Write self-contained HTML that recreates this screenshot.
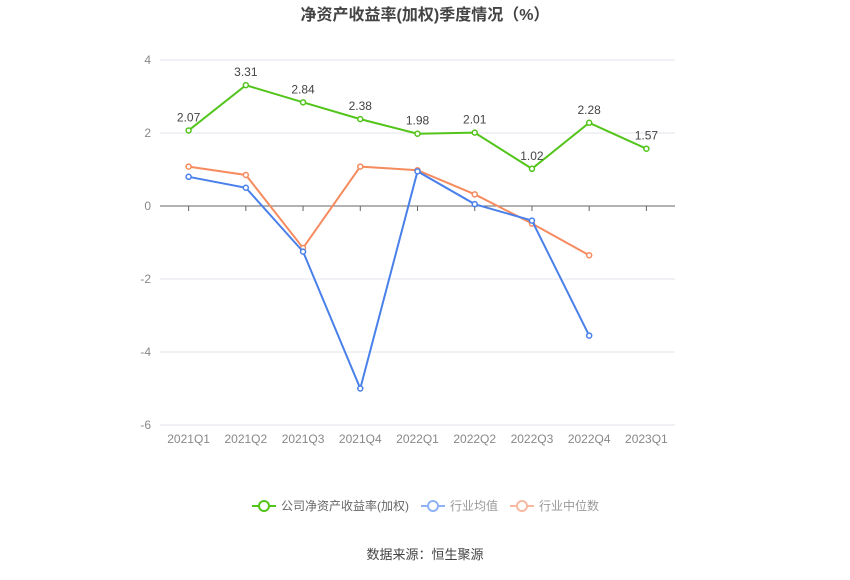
<!DOCTYPE html>
<html><head><meta charset="utf-8"><style>
body{margin:0;background:#fff;font-family:"Liberation Sans","Noto Sans CJK SC",sans-serif}
</style></head><body>
<svg width="850" height="575" xmlns="http://www.w3.org/2000/svg" font-family="Liberation Sans, Noto Sans CJK SC, sans-serif">
<text x="425" y="20" text-anchor="middle" font-size="16" font-weight="bold" fill="#444">净资产收益率(加权)季度情况（%）</text>
<g id="grid"></g><g id="series"></g>
<g font-size="12" fill="#666">
<g><line x1="252" x2="276" y1="506" y2="506" stroke="#52c41a" stroke-width="2"/><circle cx="264" cy="506" r="5" fill="#fff" stroke="#52c41a" stroke-width="2"/><text x="281" y="510">公司净资产收益率(加权)</text></g>
<g><line x1="421" x2="445" y1="506" y2="506" stroke="#8fb2f5" stroke-width="2"/><circle cx="433" cy="506" r="5" fill="#fff" stroke="#8fb2f5" stroke-width="2"/><text x="450" y="510" fill="#999">行业均值</text></g>
<g><line x1="510" x2="534" y1="506" y2="506" stroke="#f9b9a0" stroke-width="2"/><circle cx="522" cy="506" r="5" fill="#fff" stroke="#f9b9a0" stroke-width="2"/><text x="539" y="510" fill="#999">行业中位数</text></g>
</g>
<text x="425" y="559" text-anchor="middle" font-size="13" fill="#444">数据来源：恒生聚源</text>
</svg>
<script>
const categories=["2021Q1","2021Q2","2021Q3","2021Q4","2022Q1","2022Q2","2022Q3","2022Q4","2023Q1"];
const companyVals=[2.07,3.31,2.84,2.38,1.98,2.01,1.02,2.28,1.57];
const avgVals=[0.8,0.5,-1.25,-5.0,0.95,0.05,-0.4,-3.55];
const medianVals=[1.08,0.85,-1.15,1.08,0.98,0.32,-0.48,-1.35];
const yTicks=[4,2,0,-2,-4,-6];
const NS="http://www.w3.org/2000/svg";
const x0=160,x1=675,step=(x1-x0)/categories.length;
const xs=i=>x0+step*(i+0.5);
const ys=v=>206-v*36.5;
const grid=document.getElementById('grid'),ser=document.getElementById('series');
function mk(tag,attrs,parent){const e=document.createElementNS(NS,tag);for(const k in attrs)e.setAttribute(k,attrs[k]);parent.appendChild(e);return e;}
yTicks.forEach(t=>{
 const l=mk('line',{x1:x0,x2:x1,y1:ys(t),y2:ys(t),stroke:t===0?'#666':'#e3e6ee','stroke-width':1},grid);
 
 
 const tx=mk('text',{x:151,y:ys(t)+4,'text-anchor':'end','font-size':12,fill:'#888'},grid);tx.textContent=t;
 
 
});
categories.forEach((c,i)=>{
 const tk=mk('line',{x1:xs(i),x2:xs(i),y1:206,y2:211,stroke:'#666'},grid);
 
 
 const tx=mk('text',{x:xs(i),y:443,'text-anchor':'middle','font-size':12,fill:'#888'},grid);tx.textContent=c;
 
 
});
function draw(vals,color,name,labels){
 const g=mk('g',{},ser);
 
 
 const p=mk('polyline',{points:vals.map((v,i)=>xs(i)+','+ys(v)).join(' '),fill:'none',stroke:color,'stroke-width':2},g);
 
 
 vals.forEach((v,i)=>{
  const c=mk('circle',{cx:xs(i),cy:ys(v),r:2.5,fill:'#fff',stroke:color,'stroke-width':1.5},g);
  
  
  if(labels){const t=mk('text',{x:xs(i),y:ys(v)-9,'text-anchor':'middle','font-size':12,fill:'#444'},g);t.textContent=v.toFixed(2);
   
   }
 });
}
draw(medianVals,'#f68b5f','industry-median-series',false);
draw(avgVals,'#4a80ea','industry-avg-series',false);
draw(companyVals,'#52c41a','company-roe-series',true);
</script>
</body></html>
